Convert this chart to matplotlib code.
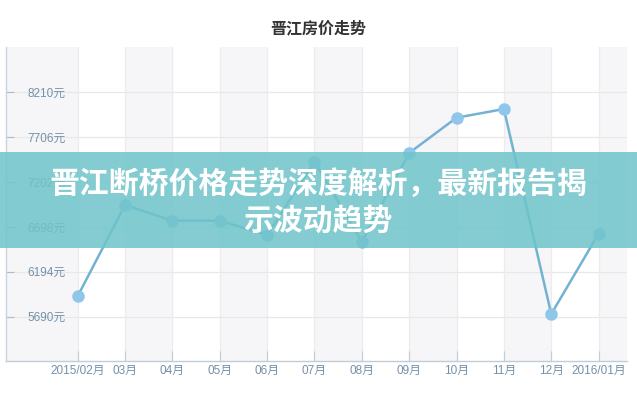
import matplotlib
matplotlib.use('Agg')
import matplotlib.pyplot as plt
from matplotlib.patches import Rectangle

plt.rcParams['font.family'] = ['Noto Sans CJK SC', 'DejaVu Sans']

months = ['2015/02月', '03月', '04月', '05月', '06月', '07月', '08月',
          '09月', '10月', '11月', '12月', '2016/01月']
prices = [5922, 6944, 6768, 6768, 6607, 7430, 6532, 7528, 7924, 8021, 5720, 6622]
ytick_vals = [5690, 6194, 6698, 7202, 7706, 8210]
ytick_labels = [f'{v}元' for v in ytick_vals]
title = '晋江房价走势'
banner = '晋江断桥价格走势深度解析，最新报告揭\n示波动趋势'

tick_family = ['Liberation Sans', 'Noto Sans CJK SC']

fig = plt.figure(figsize=(6.37, 4.0), dpi=100)
fig.patch.set_facecolor('white')
ax = fig.add_axes([6/637, 39/400, 621/637, 313.6/400])

x = list(range(len(months)))
x_left, x_right = -1.515, 11.6
ax.set_xlim(x_left, x_right)
ax.set_ylim(5193, 8713)

# alternate bands
band_color = '#f6f6f8'
ax.axvspan(x_left, 0, color=band_color, zorder=0, lw=0)
for i in range(1, len(months), 2):
    ax.axvspan(i, min(i + 1, x_right), color=band_color, zorder=0, lw=0)

# grid
for v in ytick_vals:
    ax.axhline(v, color='#e8e8e8', lw=0.9, zorder=1)
for i in x:
    ax.axvline(i, color='#ececec', lw=0.9, zorder=1)

ax.plot(x, prices, color='#74b2d2', lw=1.8, zorder=3,
        marker='o', markersize=8, markerfacecolor='#8fc6ea',
        markeredgecolor='#8fc6ea', solid_capstyle='round')

ax.set_xticks(x)
ax.set_xticklabels(months, fontsize=8.5, color='#7490aa', family=tick_family)
ax.tick_params(axis='x', direction='in', length=7, color='#c4ccd4', pad=3)

ax.set_yticks(ytick_vals)
ax.set_yticklabels(ytick_labels, fontsize=8.5, color='#7490aa', family=tick_family)
ax.tick_params(axis='y', direction='in', length=6, color='#a8bccc', pad=-43)
for lab in ax.get_yticklabels():
    lab.set_horizontalalignment('right')

for s in ['top', 'right']:
    ax.spines[s].set_visible(False)
ax.spines['left'].set_color('#c8d4e0')
ax.spines['bottom'].set_color('#c0ccd8')
ax.spines['left'].set_linewidth(1)
ax.spines['bottom'].set_linewidth(1)

fig.text(318/637, 1 - 28/400, title, ha='center', va='center',
         fontsize=11.5, fontweight='bold', color='#333333')

# banner overlay
fig.patches.append(Rectangle((0, 1 - 248/400), 1, 96/400, transform=fig.transFigure,
                             facecolor='#6ec4c9', alpha=0.85, zorder=10, lw=0))
fig.text(0.5, 1 - 202/400, banner, ha='center', va='center', fontsize=21.5,
         fontweight='heavy', color='white', linespacing=1.28, zorder=11)

fig.savefig('out.png', dpi=100)
